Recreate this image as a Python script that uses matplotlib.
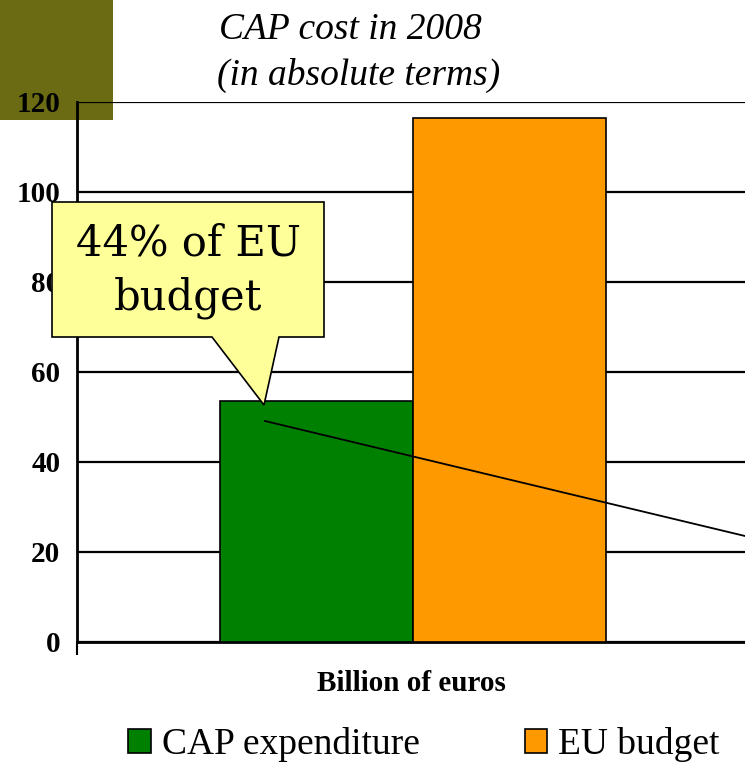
import matplotlib
matplotlib.use("Agg")
import matplotlib.pyplot as plt
from matplotlib.patches import Rectangle, Polygon, Patch
from matplotlib.lines import Line2D

# ---- data ----
series_names = ["CAP expenditure", "EU budget"]
series_values = [53.6, 116.4]
series_colors = ["#008000", "#FF9900"]
category = "Billion of euros"
yticks = [0, 20, 40, 60, 80, 100, 120]
title_lines = ["CAP cost in 2008", "(in absolute terms)"]
callout_text = "44% of EU\nbudget"

W, H = 745, 766
fig = plt.figure(figsize=(W / 100, H / 100), dpi=100)
fig.patch.set_facecolor("white")

def fx(px):
    return px / W

def fy(py):
    return 1 - py / H

# olive decorative block
fig.patches.append(Rectangle((0, fy(120)), fx(113), 1 - fy(120), transform=fig.transFigure,
                             facecolor="#6B6B14", edgecolor="none", zorder=0.2))

ax = fig.add_axes([fx(77), fy(642), fx(745) - fx(77), fy(102) - fy(642)])
ax.set_zorder(1)
ax.patch.set_alpha(0)

xs = [-0.5, 0.5]
ax.bar(xs, series_values, width=1.0, color=series_colors, edgecolor="black", linewidth=1.2, zorder=3)
ax.set_xlim((77 - 413) / 193, (745 - 413) / 193)
ax.set_ylim(0, 120)
ax.set_yticks(yticks)
ax.set_yticklabels([str(t) for t in yticks], fontfamily="Liberation Serif", fontweight="bold", fontsize=21)
ax.yaxis.grid(True, color="black", linewidth=1.6, zorder=0)
ax.tick_params(axis="y", length=0, pad=12)
ax.set_xticks([ax.get_xlim()[0]])
ax.set_xticklabels([""])
ax.tick_params(axis="x", length=9, width=1.5, direction="out")
for s in ["top", "right"]:
    ax.spines[s].set_visible(False)
ax.spines["left"].set_linewidth(2)
ax.spines["bottom"].set_linewidth(2)
ax.set_axisbelow(True)

ax.set_xlabel(category, fontfamily="Liberation Serif", fontweight="bold", fontsize=21, labelpad=8)

# title
fig.text(fx(350), fy(30), title_lines[0], ha="center", va="center", fontfamily="Liberation Serif",
         style="italic", fontsize=27)
fig.text(fx(359), fy(75), title_lines[1], ha="center", va="center", fontfamily="Liberation Serif",
         style="italic", fontsize=27)

# diagonal line
fig.lines.append(Line2D([fx(265), fx(745)], [fy(421), fy(536)], transform=fig.transFigure,
                        color="black", linewidth=1.3, zorder=4))

# callout
pts = [(52, 202), (324, 202), (324, 337), (279, 337), (264, 405), (212, 337), (52, 337)]
fig.patches.append(Polygon([(fx(x), fy(y)) for x, y in pts], closed=True, transform=fig.transFigure,
                           facecolor="#FFFF99", edgecolor="black", linewidth=1.2, zorder=5))
fig.text(fx(188), fy(243), callout_text.split("\n")[0], ha="center", va="center",
         fontfamily="DejaVu Serif", fontsize=30, zorder=6)
fig.text(fx(188), fy(298), callout_text.split("\n")[1], ha="center", va="center",
         fontfamily="DejaVu Serif", fontsize=30, zorder=6)

# legend
handles = [Patch(facecolor=c, edgecolor="black", linewidth=1.2) for c in series_colors]
leg = fig.legend(handles, series_names, loc="center", bbox_to_anchor=(fx(424), fy(745)), ncol=2,
                 frameon=False, prop={"family": "Liberation Serif", "size": 27},
                 handlelength=0.6, handleheight=0.6, handletextpad=0.3, columnspacing=2.8,
                 borderaxespad=0, borderpad=0)

fig.savefig("out.png", dpi=100)
